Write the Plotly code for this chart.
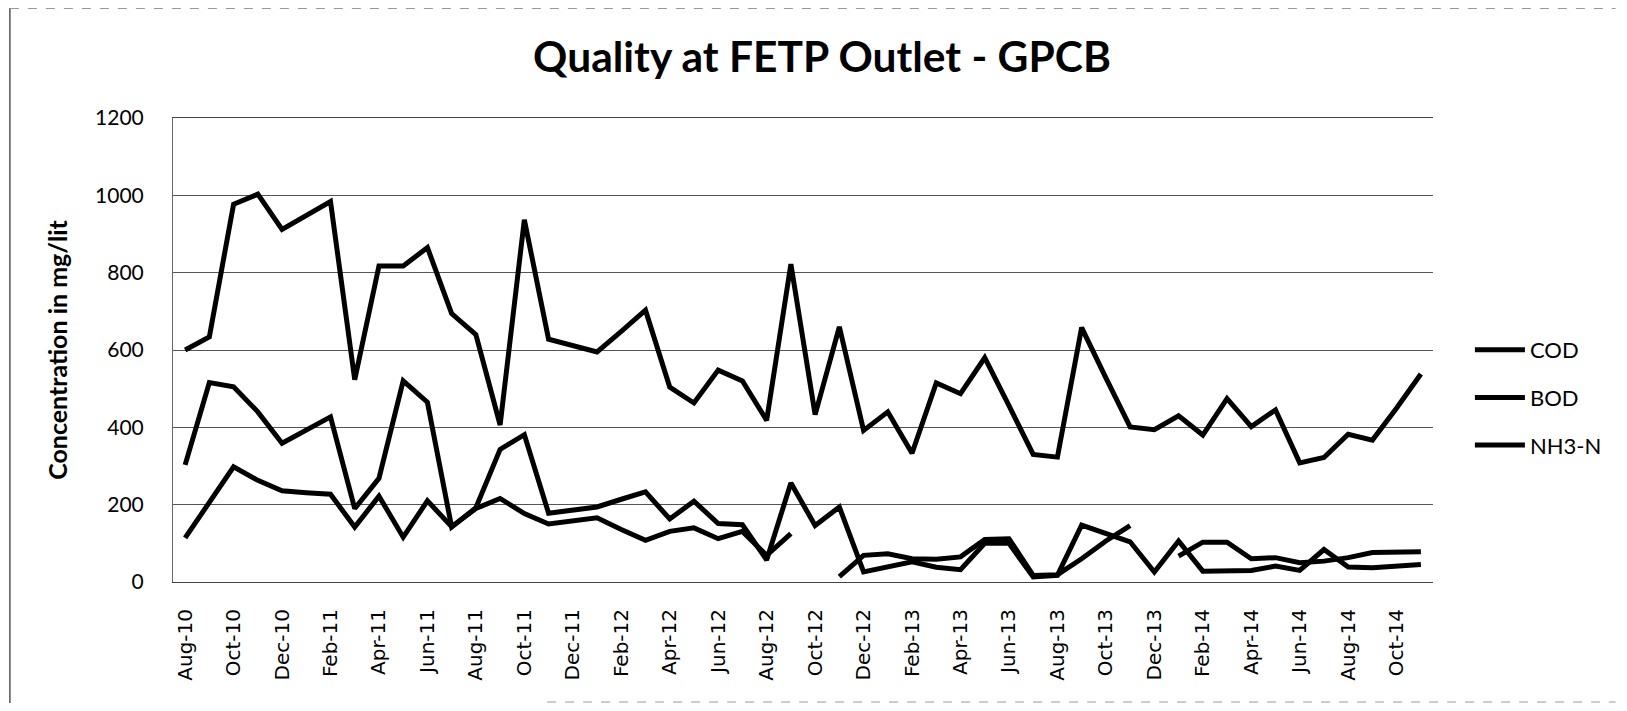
import plotly.graph_objects as go

months = [
    "Aug-10", "Sep-10", "Oct-10", "Nov-10", "Dec-10",
    "Jan-11", "Feb-11", "Mar-11", "Apr-11", "May-11", "Jun-11", "Jul-11", "Aug-11", "Sep-11", "Oct-11", "Nov-11", "Dec-11",
    "Jan-12", "Feb-12", "Mar-12", "Apr-12", "May-12", "Jun-12", "Jul-12", "Aug-12", "Sep-12", "Oct-12", "Nov-12", "Dec-12",
    "Jan-13", "Feb-13", "Mar-13", "Apr-13", "May-13", "Jun-13", "Jul-13", "Aug-13", "Sep-13", "Oct-13", "Nov-13", "Dec-13",
    "Jan-14", "Feb-14", "Mar-14", "Apr-14", "May-14", "Jun-14", "Jul-14", "Aug-14", "Sep-14", "Oct-14", "Nov-14",
]

cod = [600, 634, 977, 1003, 912, 948, 984, 523, 817, 817, 865, 694, 640, 406, 937, 628, 612,
       595, 648, 703, 504, 463, 548, 520, 418, 822, 433, 660, 392,
       440, 333, 515, 487, 580, 456, 330, 323, 658, 528, 401, 394,
       430, 380, 474, 402, 445, 308, 322, 382, 367, 450, 538]

bod = [303, 516, 505, 440, 359, 394, 427, 190, 268, 520, 465, 142, 192, 343, 381, 178, 186,
       194, 214, 233, 163, 209, 151, 148, 57, 256, 146, 194, 26,
       39, 52, 38, 32, 100, 100, 13, 17, 147, 126, 104, 26,
       106, 28, 28, 30, 41, 30, 84, 39, 37, 41, 45]

nh3 = [114, 206, 298, 263, 236, 231, 227, 142, 222, 116, 210, 143, 190, 216, 177, 150, 157,
       166, 136, 108, 131, 140, 112, 131, 69, 125, None, 14, 69,
       73, 60, 59, 65, 110, 112, 17, 19, 60, 106, 146, None,
       67, 103, 103, 60, 63, 50, 54, 63, 76, 77, 78]

tick_labels = months[::2]
series = [("COD", cod), ("BOD", bod), ("NH3-N", nh3)]

fig = go.Figure()
for name, vals in series:
    fig.add_trace(go.Scatter(
        x=months, y=vals, name=name, mode="lines",
        line=dict(color="black", width=5),
        connectgaps=False, legendgroup=name,
    ))

# page body has an 8px margin; figure is sized to fit inside the window
W, H = 1611, 695
L, R, T, B = 165, 1428, 110, 574
fig.update_layout(
    width=W, height=H,
    margin=dict(l=L, r=W - R, t=T, b=H - B, pad=0),
    paper_bgcolor="white", plot_bgcolor="white",
    title=dict(text="Quality at FETP Outlet - GPCB", x=814 / W, xanchor="center",
               y=1 - 48.7 / H, yanchor="middle",
               font=dict(family="Lato", size=42.5, color="black", weight="bold")),
    showlegend=True,
    legend=dict(x=(1465 - L) / (R - L), xanchor="left",
                y=(B - 321) / (B - T), yanchor="top",
                font=dict(family="Lato", size=22, color="black"),
                itemwidth=50, tracegroupgap=16, bgcolor="rgba(0,0,0,0)"),
    xaxis=dict(type="category", categoryorder="array", categoryarray=months,
               range=[-0.5, len(months) - 0.5],
               tickmode="array", tickvals=tick_labels, ticktext=tick_labels,
               tickangle=-90, showgrid=False, showline=True, mirror=True,
               linecolor="#444", linewidth=1,
               ticks="", ticklabelstandoff=18,
               tickfont=dict(family="DejaVu Sans", size=20, color="black")),
    yaxis=dict(range=[0, 1200], dtick=200, tick0=0, showgrid=True, gridcolor="#555", gridwidth=1,
               showline=True, linecolor="#666", linewidth=1, zeroline=False,
               ticks="", ticklabelstandoff=24,
               tickfont=dict(family="Lato", size=21, color="black"),
               title=dict(text="Concentration in mg/lit", standoff=20,
                          font=dict(family="Lato", size=25, color="black", weight="bold"))),
)

def px_x(v):
    return (v - L) / (R - L)

def px_y(v):
    return (B - v) / (B - T)

fig.add_shape(type="line", xref="paper", yref="paper",
              x0=px_x(1.5), x1=px_x(1.5), y0=px_y(0), y1=px_y(H),
              line=dict(color="#555", width=1.5), layer="below")
fig.add_shape(type="line", xref="paper", yref="paper",
              x0=px_x(1.5), x1=px_x(W), y0=px_y(0.5), y1=px_y(0.5),
              line=dict(color="#999", width=1, dash="dash"), layer="below")
fig.add_shape(type="line", xref="paper", yref="paper",
              x0=px_x(540), x1=px_x(W), y0=px_y(H - 1), y1=px_y(H - 1),
              line=dict(color="#999", width=1, dash="dash"), layer="below")

fig.write_html("out.html")
